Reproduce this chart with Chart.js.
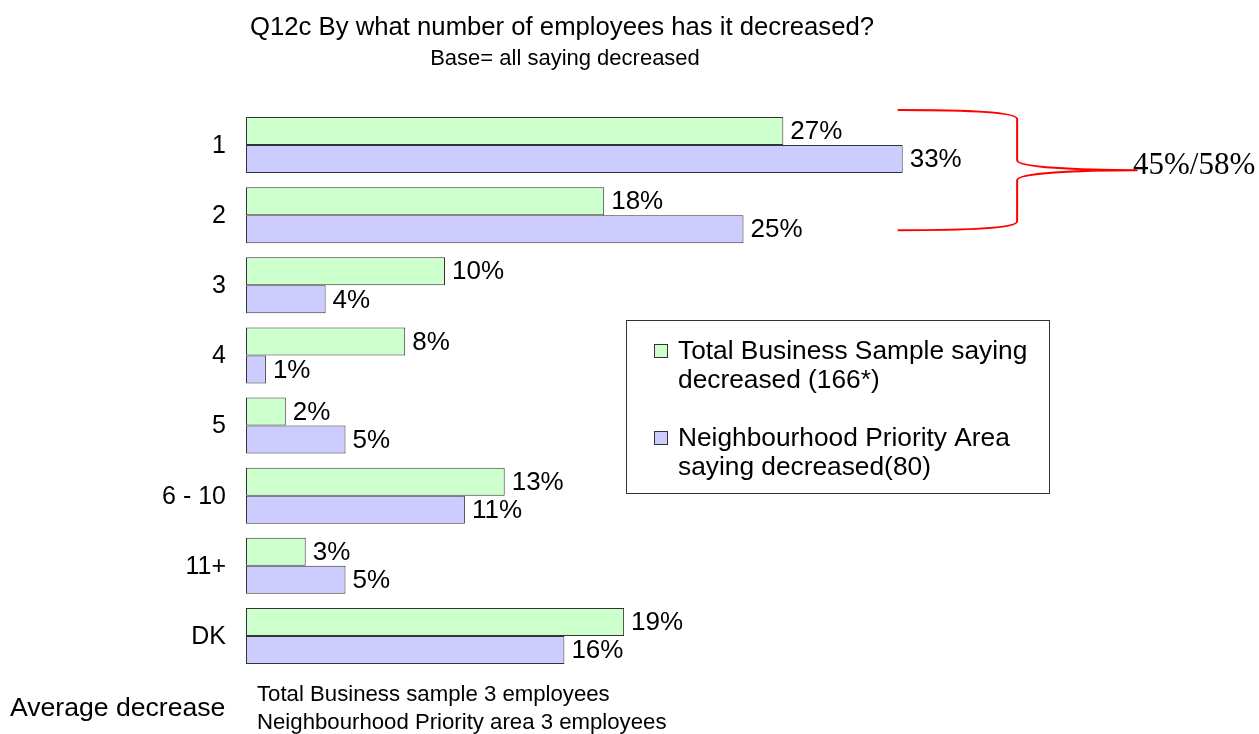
<!DOCTYPE html>
<html>
<head>
<meta charset="utf-8">
<title>Q12c decrease in employees</title>
<script src="https://cdn.jsdelivr.net/npm/chart.js@4.4.1/dist/chart.umd.min.js"></script>
<style>
  html, body { margin: 0; padding: 0; background: #fff; }
  canvas { display: block; }
</style>
</head>
<body>
<canvas id="DecreaseChart" width="1259" height="734"></canvas>
<script>
const categories = ['1', '2', '3', '4', '5', '6 - 10', '11+', 'DK'];
const totalSample = [27, 18, 10, 8, 2, 13, 3, 19];
const priorityArea = [33, 25, 4, 1, 5, 11, 5, 16];
const seriesNames = [
    ['Total Business Sample saying', 'decreased (166*)'],
    ['Neighbourhood Priority Area', 'saying decreased(80)'],
];
const titleText = 'Q12c By what number of employees has it decreased?';
const baseText = 'Base= all saying decreased';
const averageLabel = 'Average decrease';
const averageLines = ['Total Business sample 3 employees', 'Neighbourhood Priority area 3 employees'];

const SANS = '"Liberation Sans", Arial, sans-serif';
const SERIF = '"Liberation Serif", "Times New Roman", serif';

function drawText(ctx, text, x, y, size, align, family) {
    ctx.save();
    ctx.font = size + 'px ' + (family || SANS);
    ctx.textAlign = align || 'left';
    ctx.textBaseline = 'middle';
    ctx.fillStyle = '#000';
    ctx.fillText(text, x, y);
    ctx.restore();
}

const labelsPlugin = {
    id: 'labelsPlugin',
    afterDatasetsDraw(chart) {
        const ctx = chart.ctx;
        const yScale = chart.scales.y;
        const xScale = chart.scales.x;

        // category labels on the left
        categories.forEach((c, i) => {
            drawText(ctx, c, 226, yScale.getPixelForValue(i) + 1, 25, 'right');
        });

        // value labels at the bar ends
        chart.data.datasets.forEach((ds, di) => {
            const meta = chart.getDatasetMeta(di);
            meta.data.forEach((bar, i) => {
                drawText(ctx, ds.data[i] + '%', bar.x + 7, bar.y + 1, 26, 'left');
            });
        });

        // titles
        drawText(ctx, titleText, 562, 28, 25.7, 'center');
        drawText(ctx, baseText, 565, 59, 22, 'center');

        // average decrease notes
        drawText(ctx, averageLabel, 10, 709, 26.6, 'left');
        drawText(ctx, averageLines[0], 257, 695, 22.2, 'left');
        drawText(ctx, averageLines[1], 257, 723, 22.2, 'left');

        // legend box
        ctx.save();
        ctx.fillStyle = '#fff';
        ctx.fillRect(626.5, 320.5, 423, 173);
        ctx.strokeStyle = '#333';
        ctx.lineWidth = 1;
        ctx.strokeRect(626.5, 320.5, 423, 173);
        ctx.restore();
        const rows = [352, 439];
        chart.data.datasets.forEach((ds, di) => {
            const y = rows[di];
            ctx.save();
            ctx.fillStyle = ds.backgroundColor;
            ctx.fillRect(654.5, y - 7.5, 13, 13);
            ctx.strokeStyle = '#333';
            ctx.strokeRect(654.5, y - 7.5, 13, 13);
            ctx.restore();
            seriesNames[di].forEach((line, li) => {
                drawText(ctx, line, 678, y + li * 29, 26.3, 'left');
            });
        });

        // bracket grouping categories 1 and 2
        const x0 = xScale.getPixelForValue(priorityArea[0]) - 5;
        const xb = xScale.getPixelForValue(38.75);
        const xe = xScale.getPixelForValue(44.8);
        const top = yScale.getPixelForValue(0) - 35;
        const bottom = yScale.getPixelForValue(1) + 15;
        const mid = (top + bottom) / 2;
        ctx.save();
        ctx.strokeStyle = '#ff0000';
        ctx.lineWidth = 2;
        ctx.beginPath();
        ctx.moveTo(x0, top);
        ctx.bezierCurveTo(x0 + 70, top, xb, top + 2, xb, top + 9);
        ctx.lineTo(xb, mid - 10);
        ctx.bezierCurveTo(xb, mid - 3, xb + 60, mid, xe, mid);
        ctx.moveTo(x0, bottom);
        ctx.bezierCurveTo(x0 + 70, bottom, xb, bottom - 2, xb, bottom - 9);
        ctx.lineTo(xb, mid + 10);
        ctx.bezierCurveTo(xb, mid + 3, xb + 60, mid, xe, mid);
        ctx.stroke();
        ctx.restore();
        const groupTotal = (totalSample[0] + totalSample[1]) + '%/' + (priorityArea[0] + priorityArea[1]) + '%';
        drawText(ctx, groupTotal, 1133, mid - 4, 31, 'left', SERIF);
    }
};

const bar_data = {
    labels: categories,
    datasets: [
        {
            label: seriesNames[0].join(' '),
            data: totalSample,
            backgroundColor: '#ccffcc',
            borderColor: '#333333',
        },
        {
            label: seriesNames[1].join(' '),
            data: priorityArea,
            backgroundColor: '#ccccff',
            borderColor: '#333333',
        },
    ]
};

const bar_config = {
    type: 'bar',
    data: bar_data,
    options: {
        indexAxis: 'y',
        responsive: false,
        animation: false,
        layout: {
            padding: { left: 246, top: 110, right: 217, bottom: 63 }
        },
        scales: {
            x: { display: false, min: 0, max: 40 },
            y: { display: false }
        },
        categoryPercentage: 0.8,
        barPercentage: 1.0,
        elements: {
            bar: {
                borderWidth: 1,
                borderSkipped: false,
            }
        },
        plugins: {
            legend: { display: false },
            title: { display: false },
            tooltip: { enabled: false }
        }
    },
    plugins: [labelsPlugin]
};

new Chart(document.getElementById('DecreaseChart'), bar_config);
</script>
</body>
</html>
